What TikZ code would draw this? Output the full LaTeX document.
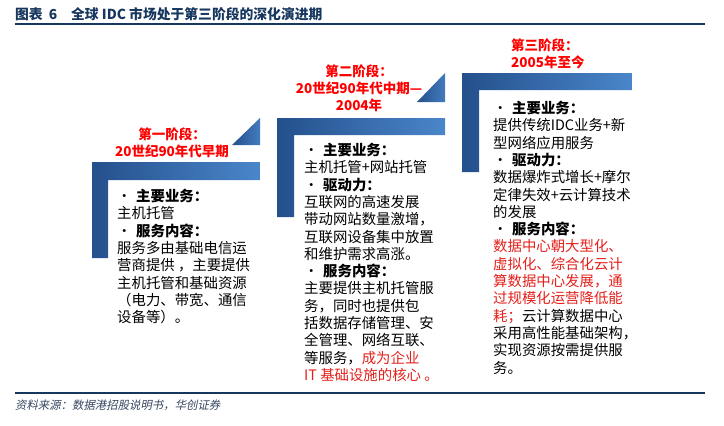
\documentclass[tikz,border=0pt]{standalone}
\usepackage{fontspec}
\newfontfamily\cjk{Noto Sans CJK SC}
\newfontfamily\cjkslant{Noto Sans CJK SC}[FakeSlant=0.2]

\definecolor{bardark}{HTML}{24508C}
\definecolor{barlight}{HTML}{4A86CA}
\definecolor{navy}{HTML}{17375E}
\definecolor{stagered}{HTML}{FF0000}
\definecolor{notered}{HTML}{E3201B}
\definecolor{srcgray}{HTML}{34465F}

\tikzset{
  stagebar/.style={left color=bardark, right color=barlight},
  stagetip/.style={left color=bardark, right color=barlight!80!bardark},
  stagelabel/.style={text=stagered, inner sep=0pt,
    font=\cjk\bfseries\fontsize{13.5}{17}\selectfont},
  stagetext/.style={anchor=north west, inner sep=0pt, align=left,
    font=\cjk\fontsize{14.4}{17.3}\selectfont},
}
\newcommand{\itm}[1]{\makebox[19pt][l]{•}\textbf{#1}}
\newcommand{\hl}[1]{\textcolor{notered}{#1}}

\begin{document}
\begin{tikzpicture}[x=1pt, y=-1pt]
  \useasboundingbox (0,0) rectangle (724,426);

  % title and rules
  \node[anchor=west, inner sep=0pt, text=navy,
    font=\cjk\bfseries\fontsize{13.8}{16}\selectfont] (title) at (15,14)
    {图表\hspace{6pt}6\hspace{14pt}全球 IDC 市场处于第三阶段的深化演进期};
  \draw[navy, line width=2pt] (15,24) -- (705,24);
  \draw[navy, line width=2pt] (15,393) -- (705,393);
  \node[anchor=west, inner sep=0pt, text=srcgray,
    font=\cjkslant\fontsize{11.4}{14}\selectfont] (source) at (15,405)
    {资料来源：数据港招股说明书，华创证券};

  % steps
  \shade[stagebar] (92,162) -- (260,162) -- (260,180) -- (108,180)
    -- (108,258) -- (92,258) -- cycle;
  \shade[stagetip] (232,145) -- (260,145) -- (260,118) -- cycle;
  \shade[stagebar] (277,118) -- (445,118) -- (445,135) -- (294,135)
    -- (294,217) -- (277,217) -- cycle;
  \shade[stagetip] (417,102) -- (445,102) -- (445,73) -- cycle;
  \shade[stagebar] (462,73) -- (632,73) -- (632,90) -- (479,90)
    -- (479,172) -- (462,172) -- cycle;

  % stage labels
  \node[stagelabel, align=center] (label1) at (172,142.5)
    {第一阶段：\\20世纪90年代早期};
  \node[stagelabel, align=center] (label2) at (359,88.5)
    {第二阶段：\\20世纪90年代中期—\\2004年};
  \node[stagelabel, align=left, anchor=west] (label3) at (511,53.5)
    {第三阶段：\\2005年至今};

  % stage contents
  \node[stagetext] (body1) at (117,189)
    {\itm{主要业务：}\\主机托管\\\itm{服务内容：}\\服务多由基础电信运\\
     营商提供 ，主要提供\\主机托管和基础资源\\（电力、带宽、通信\\设备等）。};
  \node[stagetext] (body2) at (304,143)
    {\itm{主要业务：}\\主机托管+网站托管\\\itm{驱动力：}\\互联网的高速发展\\
     带动网站数量激增，\\互联网设备集中放置\\和维护需求高涨。\\
     \itm{服务内容：}\\主要提供主机托管服\\务，同时也提供包\\
     括数据存储管理、安\\全管理、网络互联、\\等服务，\hl{成为企业}\\
     \hl{IT 基础设施的核心 。}};
  \node[stagetext] (body3) at (493,101)
    {\itm{主要业务：}\\提供传统IDC业务+新\\型网络应用服务\\\itm{驱动力：}\\
     数据爆炸式增长+摩尔\\定律失效+云计算技术\\的发展\\\itm{服务内容：}\\
     \hl{数据中心朝大型化、}\\\hl{虚拟化、综合化云计}\\\hl{算数据中心发展，通}\\
     \hl{过规模化运营降低能}\\\hl{耗；}云计算数据中心\\采用高性能基础架构，\\
     实现资源按需提供服\\务。};
\end{tikzpicture}
\end{document}
